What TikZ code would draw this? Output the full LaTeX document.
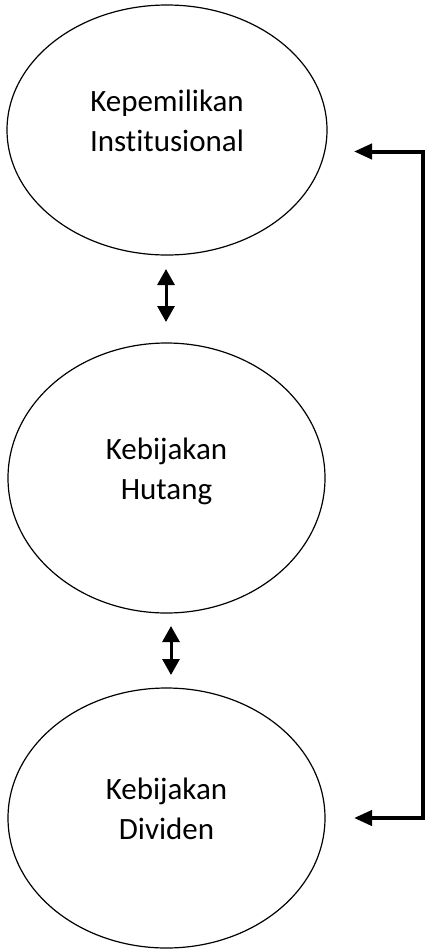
\documentclass[tikz,border=0pt]{standalone}
\usepackage{fontspec}
\setmainfont{Carlito}[Ligatures=NoCommon]
\usetikzlibrary{shapes.geometric}
\usetikzlibrary{arrows.meta}
\usetikzlibrary{calc}

\begin{document}
\begin{tikzpicture}[x=1pt, y=-1pt, font=\fontsize{31}{40}\selectfont]
    \tikzstyle{var}=[draw=black, ellipse, line width=1.2pt, align=center, inner sep=0pt, text depth=18pt]
    \tikzstyle{link}=[{Triangle[length=16pt, width=17pt]}-{Triangle[length=16pt, width=17pt]}, line width=3pt]
    \tikzstyle{back}=[{Triangle[length=18pt, width=15pt]}-{Triangle[length=18pt, width=15pt]}, line width=4pt, line join=miter]

    \useasboundingbox (0,0) rectangle (425,951);

    %% Variables
    \node[var, minimum width=320pt, minimum height=250pt] (kep) at (167,130) {Kepemilikan\\Institusional};
    \node[var, minimum width=317pt, minimum height=270pt] (hut) at (166.5,478) {Kebijakan\\Hutang};
    \node[var, minimum width=317pt, minimum height=260pt] (div) at (166.5,818) {Kebijakan\\Dividen};

    %% Two-way links
    \coordinate (l1a) at (166,269);
    \coordinate (l1b) at (166,322);
    \coordinate (l2a) at (171,626);
    \coordinate (l2b) at (171,675);
    \draw[link] (l1a) -- (l1b);
    \draw[link] (l2a) -- (l2b);

    %% Feedback line on the right
    \coordinate (ta) at (354,151.5);
    \coordinate (ca) at (423,151.5);
    \coordinate (cb) at (423,818);
    \coordinate (tb) at (354,818);
    \draw[back] (ta) -- (ca) -- (cb) -- (tb);
\end{tikzpicture}
\end{document}
